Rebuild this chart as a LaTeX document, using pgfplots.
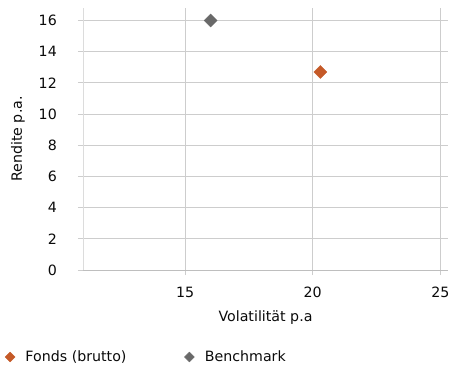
\documentclass[border=0pt]{standalone}
\usepackage{fontspec}
\setmainfont{DejaVu Sans}
\usepackage{pgfplots}
\pgfplotsset{compat=1.18}
\definecolor{fonds}{RGB}{197,90,40}
\definecolor{bench}{RGB}{105,105,105}
\definecolor{gridc}{RGB}{205,205,205}
\definecolor{axc}{RGB}{190,190,190}
\definecolor{txt}{RGB}{10,10,10}
\begin{document}
\begin{tikzpicture}[x=1pt,y=1pt]
\path[use as bounding box] (0,0) rectangle (450,368);
\begin{axis}[
 at={(83pt,98pt)}, anchor=south west,
 scale only axis, width=365pt, height=262pt,
 xmin=11, xmax=25.3, ymin=0, ymax=16.8,
 xtick={15,20,25}, ytick={0,2,...,16},
 grid=major, major grid style={gridc, line width=0.8pt},
 axis x line*=bottom, axis y line*=left,
 x axis line style={-, color=axc, line width=0.9pt},
 y axis line style={-, color=gridc!70, line width=0.8pt},
 tick align=outside, major tick length=5pt,
 tick style={gridc, line width=0.8pt},
 font=\fontsize{14.2}{17}\selectfont, text=txt,
 /pgf/number format/assume math mode=true,
 yticklabel style={anchor=east, inner sep=0pt, xshift=-21pt},
 xticklabel style={anchor=center, inner sep=0pt, yshift=-17pt},
 xlabel={Volatilität p.a}, ylabel={Rendite p.a.},
 every axis y label/.style={at={(axis description cs:-0.178,0.5)}, rotate=90, anchor=center},
 every axis x label/.style={at={(axis description cs:0.5,-0.183)}, anchor=center},
 legend columns=2,
 legend style={at={(axis description cs:-0.214,-0.332)}, anchor=west, draw=none, fill=none,
   font=\fontsize{14.2}{17}\selectfont, inner sep=0pt,
   /tikz/every odd column/.append style={column sep=8.5pt},
   /tikz/every even column/.append style={column sep=56pt}},
 legend cell align=left,
]
\addplot[color=fonds, only marks, mark=square*, mark size=4.6pt, mark options={rotate=45, fill=fonds},
  legend image code/.code={\draw[mark=square*, mark size=3.5pt, mark options={rotate=45}] plot coordinates {(0cm,0cm)};}]
  coordinates {(20.3,12.7)};
\addlegendentry{Fonds (brutto)}
\addplot[color=bench, only marks, mark=square*, mark size=4.6pt, mark options={rotate=45, fill=bench},
  legend image code/.code={\draw[mark=square*, mark size=3.5pt, mark options={rotate=45}] plot coordinates {(0cm,0cm)};}]
  coordinates {(16.0,16.0)};
\addlegendentry{Benchmark}
\end{axis}
\end{tikzpicture}
\end{document}
